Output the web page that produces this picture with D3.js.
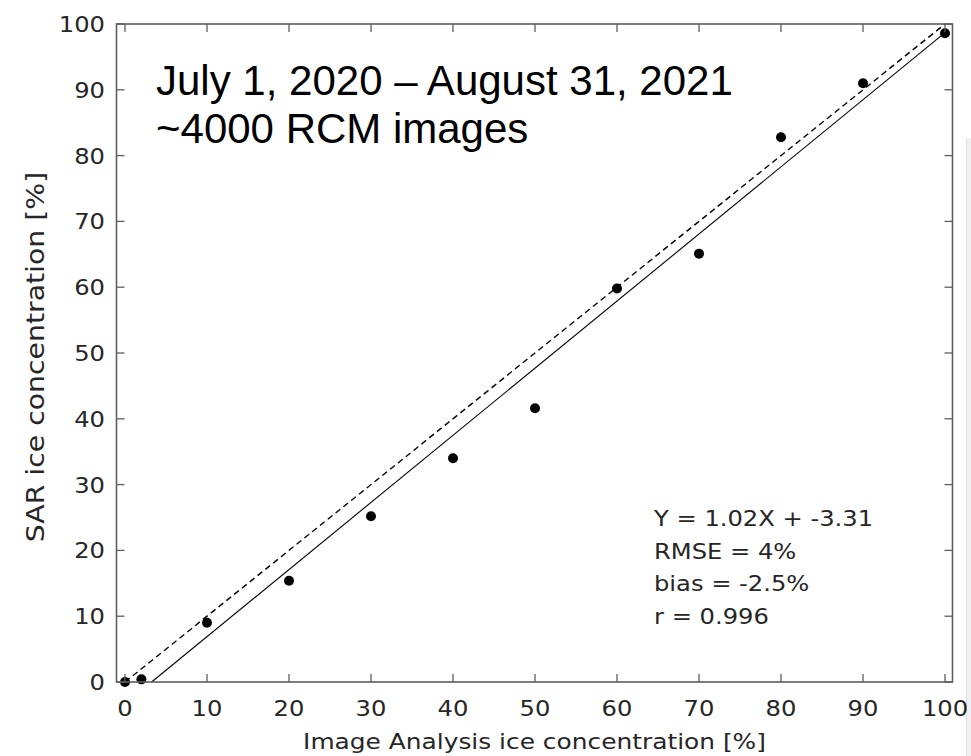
<!DOCTYPE html>
<html>
<head>
<meta charset="utf-8">
<script src="https://cdn.jsdelivr.net/npm/d3@7"></script>
<style>
  body { margin: 0; background: #fff; }
</style>
</head>
<body>
<div id="chart"></div>
<script>
// data
const iaConc = [0, 2, 10, 20, 30, 40, 50, 60, 70, 80, 90, 100];
const sarConc = [0, 0.4, 9, 15.4, 25.2, 34, 41.6, 59.8, 65.1, 82.8, 91, 98.6];
const tickVals = [0, 10, 20, 30, 40, 50, 60, 70, 80, 90, 100];
const fitSlope = 1.02, fitIntercept = -3.31;
const statsLines = ["Y = 1.02X + -3.31", "RMSE = 4%", "bias = -2.5%", "r = 0.996"];
const noteLines = ["July 1, 2020 \u2013 August 31, 2021", "~4000 RCM images"];

const W = 971, H = 756;
const box = { left: 116.5, right: 952.5, top: 24, bottom: 682 };
const sx = 1.1; // matlab text looks a bit wide

const svg = d3.select('#chart').append('svg')
  .attr('width', W).attr('height', H)
  .style('font-family', '"DejaVu Sans", sans-serif');

// light panel edge at right side
svg.append('rect')
  .attr('x', 966).attr('y', 138).attr('width', 5).attr('height', H - 138)
  .attr('fill', '#f0f0f0');
svg.append('line')
  .attr('x1', 966.5).attr('x2', 966.5).attr('y1', 138).attr('y2', H)
  .attr('stroke', '#e0e0e0');

let x = d3.scaleLinear().domain([0, 100]).range([125, 945]);
let y = d3.scaleLinear().domain([0, 100]).range([box.bottom, box.top]);

// 1:1 dashed line
svg.append('line')
  .attr('x1', x(0)).attr('y1', y(0))
  .attr('x2', x(100)).attr('y2', y(100))
  .attr('stroke', '#000').attr('stroke-width', 1.4)
  .attr('stroke-dasharray', '6,4');

// fit line, from where it crosses 0 up to x=100
let x0 = -fitIntercept / fitSlope;
svg.append('line')
  .attr('x1', x(x0)).attr('y1', y(0))
  .attr('x2', x(100)).attr('y2', y(fitSlope * 100 + fitIntercept))
  .attr('stroke', '#000').attr('stroke-width', 1.1);

// points
svg.selectAll('.pt')
  .data(iaConc)
  .enter()
  .append('circle')
  .attr('class', 'pt')
  .attr('cx', d => x(d))
  .attr('cy', (d, i) => y(sarConc[i]))
  .attr('r', 5)
  .attr('fill', '#000');

// axes box + ticks (inward, mirrored)
const axCol = '#5e5e5e', tl = 8;
svg.append('rect')
  .attr('x', box.left).attr('y', box.top)
  .attr('width', box.right - box.left).attr('height', box.bottom - box.top)
  .attr('fill', 'none').attr('stroke', axCol).attr('stroke-width', 1.6);

const ticks = svg.append('g').attr('stroke', axCol).attr('stroke-width', 1.3);
tickVals.forEach(v => {
  ticks.append('line').attr('x1', x(v)).attr('x2', x(v)).attr('y1', box.bottom).attr('y2', box.bottom - tl);
  ticks.append('line').attr('x1', x(v)).attr('x2', x(v)).attr('y1', box.top).attr('y2', box.top + tl);
  ticks.append('line').attr('y1', y(v)).attr('y2', y(v)).attr('x1', box.left).attr('x2', box.left + tl);
  ticks.append('line').attr('y1', y(v)).attr('y2', y(v)).attr('x1', box.right).attr('x2', box.right - tl);
});

function wideText(px, py, str, anchor, size, k) {
  return svg.append('text')
    .attr('transform', `translate(${px},${py}) scale(${k || sx},1)`)
    .attr('text-anchor', anchor)
    .attr('font-size', size)
    .attr('fill', '#262626')
    .text(str);
}

tickVals.forEach(v => {
  wideText(x(v), 716, v, 'middle', 22);
  wideText(105, y(v) + 8, v, 'end', 22);
});

// axis titles
wideText((box.left + box.right) / 2, 749, 'Image Analysis ice concentration [%]', 'middle', 22, 1.13);
svg.append('text')
  .attr('transform', `translate(44,357) scale(1,1.18) rotate(-90)`)
  .attr('text-anchor', 'middle')
  .attr('font-size', 24)
  .attr('fill', '#262626')
  .text('SAR ice concentration [%]');

// stats
statsLines.forEach((s, i) => {
  wideText(654, 526 + i * 32.7, s, 'start', 22);
});

// note (added in Arial)
noteLines.forEach((s, i) => {
  svg.append('text')
    .attr('x', 156).attr('y', 95 + i * 48)
    .style('font-family', '"Liberation Sans", Arial, sans-serif')
    .attr('font-size', 42)
    .attr('fill', '#000')
    .text(s);
});
</script>
</body>
</html>
